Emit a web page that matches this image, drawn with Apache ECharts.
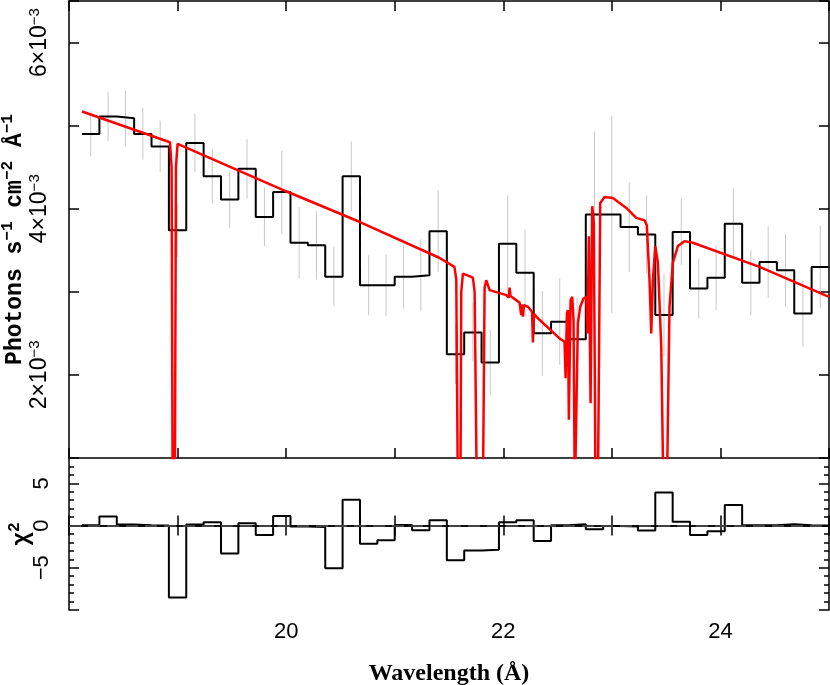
<!DOCTYPE html>
<html>
<head>
<meta charset="utf-8">
<script src="https://cdn.jsdelivr.net/npm/echarts@6/dist/echarts.min.js"></script>
<style>
  html, body { margin: 0; padding: 0; background: #fff; }
  #chart { width: 830px; height: 685px; }
</style>
</head>
<body>
<div id="chart"></div>
<script>
// binned spectrum: 43 bins of 0.16 Å starting at 18.12 Å
const binStart = 18.12;
const binWidth = 0.16;

// observed flux per bin, units of 1e-3 photons s-1 cm-2 Å-1
const flux = [4.90, 5.11, 5.09, 4.90, 4.75, 3.74, 4.79, 4.39, 4.11, 4.48,
  3.90, 4.20, 3.59, 3.56, 3.18, 4.39, 3.08, 3.08, 3.18, 3.20,
  3.73, 2.25, 2.51, 2.15, 3.58, 3.23, 2.50, 2.64, 2.43, 3.93,
  3.93, 3.78, 3.69, 2.72, 3.72, 3.04, 3.17, 3.82, 3.11, 3.36,
  3.26, 2.74, 3.30];

// 1-sigma error per bin, same units
const fluxErr = [0.27, 0.30, 0.33, 0.31, 0.31, 0.32, 0.35, 0.33, 0.34, 0.36,
  0.35, 0.50, 0.43, 0.41, 0.36, 0.42, 0.36, 0.37, 0.38, 0.43,
  0.49, 0.36, 0.35, 0.39, 0.58, 0.52, 0.51, 0.52, 0.50, 1.00,
  1.19, 0.54, 0.47, 0.50, 0.40, 0.36, 0.39, 0.42, 0.39, 0.43,
  0.44, 0.40, 0.50];

// residuals per bin
const resid = [0.05, 1.08, 0.12, 0.04, 0.00, -8.53, 0.12, 0.40, -3.30, 0.28,
  -1.12, 1.12, -0.12, -0.16, -5.06, 3.07, -2.15, -1.75, 0.08, -0.56,
  0.64, -4.10, -2.95, -2.87, 0.40, 0.64, -1.83, 0.04, 0.16, -0.44,
  -0.04, -0.12, -0.60, 3.90, 0.44, -1.12, -0.68, 2.43, 0.04, 0.04,
  0.16, 0.04, 0.00];

// model curve (wavelength in Å, flux in 1e-3 units)
const modelWave = [18.12, 18.93, 18.945, 18.955, 18.975, 18.985, 19.00, 20.00, 20.68, 21.41,
  21.55, 21.567, 21.582, 21.605, 21.613, 21.628, 21.72, 21.736, 21.757, 21.812,
  21.828, 21.843, 21.858, 21.874, 22.028, 22.05, 22.058, 22.066, 22.15, 22.165,
  22.172, 22.181, 22.19, 22.227, 22.265, 22.273, 22.281, 22.304, 22.518, 22.564,
  22.574, 22.586, 22.595, 22.604, 22.62, 22.635, 22.647, 22.659, 22.672, 22.687,
  22.709, 22.739, 22.764, 22.776, 22.788, 22.804, 22.819, 22.834, 22.85, 22.871,
  22.893, 22.933, 23.009, 23.133, 23.225, 23.301, 23.322, 23.347, 23.363, 23.378,
  23.40, 23.424, 23.455, 23.476, 23.506, 23.531, 23.562, 23.608, 23.669, 23.746,
  24.36, 25.00];
const modelFlux = [5.17, 4.80, 4.50, 0.50, 0.50, 4.50, 4.78, 4.21, 3.84, 3.41,
  3.30, 3.15, 0.50, 0.50, 3.00, 3.22, 3.17, 3.00, 0.50, 0.50,
  3.05, 3.14, 3.16, 3.02, 2.96, 2.93, 3.05, 2.95, 2.87, 2.72,
  2.85, 2.70, 2.84, 2.82, 2.76, 2.39, 2.74, 2.70, 2.44, 2.40,
  1.96, 2.74, 2.78, 1.46, 2.90, 2.94, 2.66, 0.50, 0.50, 2.62,
  2.82, 2.92, 2.94, 2.50, 3.67, 1.66, 4.03, 3.83, 0.50, 0.50,
  4.07, 4.14, 4.13, 4.01, 3.89, 3.86, 3.80, 3.14, 2.50, 3.14,
  3.55, 3.35, 2.34, 0.50, 0.50, 2.82, 3.35, 3.55, 3.61, 3.59,
  3.30, 2.94];

const binEdges = [];
for (let i = 0; i <= flux.length; i++) binEdges.push(+(binStart + binWidth * i).toFixed(2));

const stepData = (vals) => vals.map((v, i) => [binEdges[i], v]).concat([[binEdges[vals.length], vals[vals.length - 1]]]);

const tickFont = { fontFamily: "Liberation Sans", fontSize: 22, color: "#000" };
const frameLine = { show: true, lineStyle: { color: "#000", width: 1.5 } };
const tickIn = { show: true, inside: true, length: 10, lineStyle: { color: "#000", width: 1.5 } };

function xAxisFor(gridIndex, position, showLabels) {
  return {
    type: "value", gridIndex, position, min: 18, max: 25, interval: 1,
    axisLine: frameLine, axisTick: tickIn, splitLine: { show: false },
    axisLabel: showLabels
      ? { ...tickFont, margin: 11, formatter: (v) => (v % 2 === 0 && v > 18 ? String(v) : "") }
      : { show: false },
    ...(showLabels ? {
      name: "Wavelength (Å)", nameLocation: "middle", nameGap: 52, nameMoveOverlap: false,
      nameTextStyle: { fontFamily: "Liberation Serif", fontWeight: "bold", fontSize: 24, color: "#000" }
    } : {})
  };
}

const supRich = {
  m: { fontFamily: "Liberation Sans", fontSize: 23, lineHeight: 26, color: "#000" },
  s: { fontFamily: "Liberation Sans", fontSize: 15, lineHeight: 12, verticalAlign: "top", color: "#000" }
};
const titleRich = {
  t: { fontFamily: "Liberation Mono", fontWeight: "bold", fontSize: 23, lineHeight: 30, color: "#000" },
  s: { fontFamily: "Liberation Mono", fontWeight: "bold", fontSize: 16, lineHeight: 14, verticalAlign: "top", color: "#000" }
};

const chart = echarts.init(document.getElementById("chart"), null, { renderer: "canvas" });

chart.setOption({
  animation: false,
  backgroundColor: "#fff",
  grid: [
    { left: 69, right: 1, top: 1, height: 457, containLabel: false, outerBoundsMode: "none" },
    { left: 69, right: 1, top: 458, height: 152, containLabel: false, outerBoundsMode: "none" }
  ],
  xAxis: [
    xAxisFor(0, "bottom", false),
    xAxisFor(0, "top", false),
    xAxisFor(1, "bottom", true),
    xAxisFor(1, "top", false)
  ],
  yAxis: [
    {
      type: "value", gridIndex: 0, position: "left", min: 1, max: 6.5, interval: 1,
      axisLine: frameLine, axisTick: tickIn, splitLine: { show: false },
      axisLabel: {
        rotate: 90, margin: 16, rich: supRich,
        formatter: (v) => (v % 2 === 0 ? `{m|${v}×10}{s|−3}` : "")
      },
      name: "{t|Photons s}{s|−1}{t| cm}{s|−2}{t| Å}{s|−1}",
      nameLocation: "middle", nameRotate: 90, nameGap: 39, nameMoveOverlap: false,
      nameTextStyle: { rich: titleRich, padding: [0, 20, 0, 0] }
    },
    {
      type: "value", gridIndex: 0, position: "right", min: 1, max: 6.5, interval: 1,
      axisLine: frameLine, axisTick: tickIn, splitLine: { show: false }, axisLabel: { show: false }
    },
    {
      type: "value", gridIndex: 1, position: "left", min: -10, max: 8, interval: 5,
      axisLine: frameLine, axisTick: tickIn, splitLine: { show: false },
      minorTick: { show: true, splitNumber: 5, length: 5, lineStyle: { color: "#000", width: 1.5 } },
      axisLabel: {
        ...tickFont, rotate: 90, margin: 16,
        formatter: (v) => (v === -10 || v === 8 ? "" : v < 0 ? "−" + (-v) : String(v))
      },
      name: "{t|χ}{s|2}",
      nameLocation: "middle", nameRotate: 90, nameGap: 32, nameMoveOverlap: false,
      nameTextStyle: { rich: titleRich }
    },
    {
      type: "value", gridIndex: 1, position: "right", min: -10, max: 8, interval: 5,
      axisLine: frameLine, axisTick: tickIn, splitLine: { show: false },
      minorTick: { show: true, splitNumber: 5, length: 5, lineStyle: { color: "#000", width: 1.5 } },
      axisLabel: { show: false }
    }
  ],
  series: [
    {
      name: "errors", type: "custom", xAxisIndex: 0, yAxisIndex: 0, clip: true, z: 1, silent: true,
      data: flux.map((v, i) => [binEdges[i] + binWidth / 2, v - fluxErr[i], v + fluxErr[i]]),
      renderItem(params, api) {
        const lo = api.coord([api.value(0), api.value(1)]);
        const hi = api.coord([api.value(0), api.value(2)]);
        return {
          type: "line",
          shape: { x1: lo[0], y1: lo[1], x2: hi[0], y2: hi[1] },
          style: { stroke: "#c8c8c8", lineWidth: 1 }
        };
      }
    },
    {
      name: "data", type: "line", xAxisIndex: 0, yAxisIndex: 0, step: "end", z: 2,
      showSymbol: false, clip: true, silent: true,
      lineStyle: { color: "#000", width: 2 },
      data: stepData(flux)
    },
    {
      name: "model", type: "line", xAxisIndex: 0, yAxisIndex: 0, z: 3,
      showSymbol: false, clip: true, silent: true,
      lineStyle: { color: "#ff0000", width: 2.5 },
      data: modelWave.map((w, i) => [w, modelFlux[i]])
    },
    {
      name: "residuals", type: "line", xAxisIndex: 2, yAxisIndex: 2, step: "end", z: 2,
      showSymbol: false, clip: true, silent: true,
      lineStyle: { color: "#000", width: 2 },
      data: stepData(resid),
      markLine: {
        silent: true, symbol: "none", label: { show: false },
        lineStyle: { color: "#555", type: [12, 7], width: 1.5 },
        data: [{ yAxis: 0 }]
      }
    }
  ]
});
</script>
</body>
</html>
